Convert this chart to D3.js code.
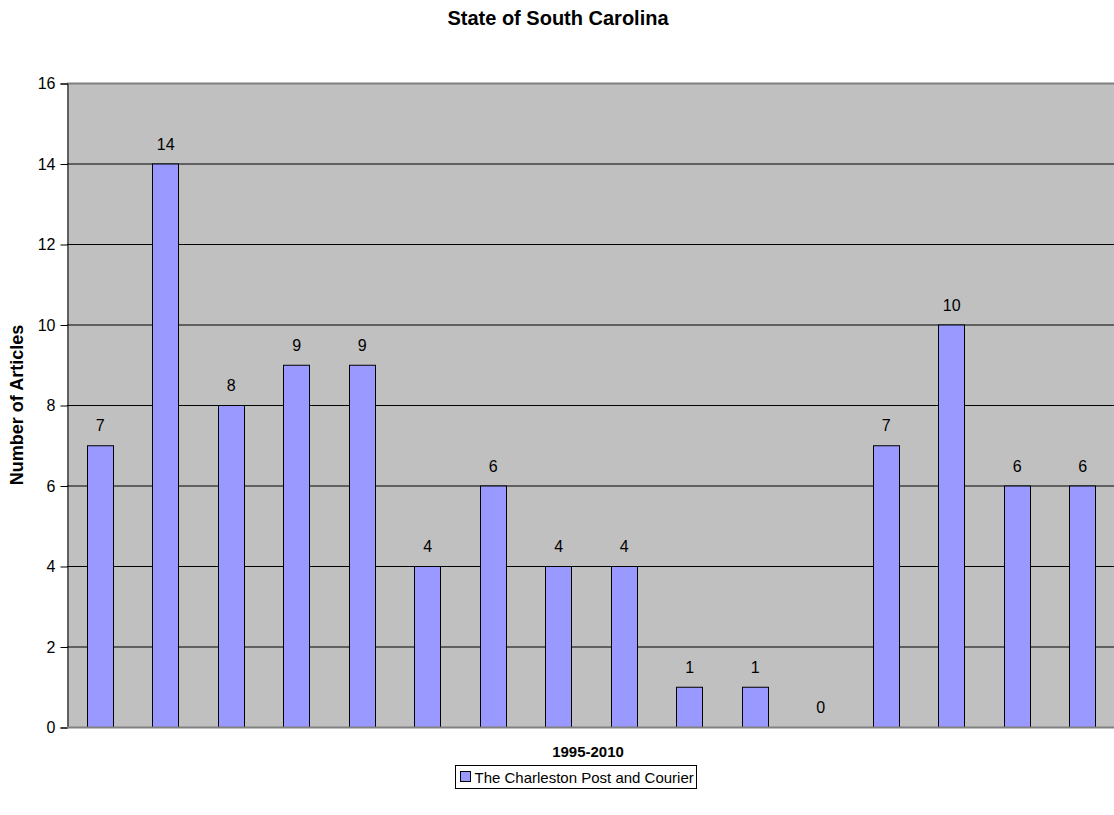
<!DOCTYPE html>
<html>
<head>
<meta charset="utf-8">
<script src="https://cdn.jsdelivr.net/npm/d3@7"></script>
<style>
  html, body { margin: 0; padding: 0; background: #fff; }
  svg { display: block; font-family: Arial, "Liberation Sans", sans-serif; }
</style>
</head>
<body>
<svg id="chart" width="1114" height="815"></svg>
<script>
// Articles per year, 1995-2010
const years = ["1995","1996","1997","1998","1999","2000","2001","2002","2003","2004","2005","2006","2007","2008","2009","2010"];
const articles = [7, 14, 8, 9, 9, 4, 6, 4, 4, 1, 1, 0, 7, 10, 6, 6];
const yTicks = [0, 2, 4, 6, 8, 10, 12, 14, 16];
const seriesName = "The Charleston Post and Courier";

const svg = d3.select("#chart");
const plot = { left: 67, top: 83, right: 1115, bottom: 727 };

const x = d3.scaleBand()
  .domain(years)
  .range([plot.left, plot.right])
  .paddingInner(0.6)
  .paddingOuter(0.3);

const y = d3.scaleLinear()
  .domain([0, 16])
  .range([plot.bottom, plot.top]);

// Plot area background
svg.append("rect")
  .attr("x", plot.left).attr("y", plot.top)
  .attr("width", plot.right - plot.left).attr("height", plot.bottom - plot.top)
  .attr("fill", "#c0c0c0");

// Horizontal gridlines
svg.append("g")
  .selectAll("line")
  .data(yTicks.filter(d => d > 0 && d < 16))
  .join("line")
  .attr("x1", plot.left).attr("x2", plot.right)
  .attr("y1", d => y(d) + 0.5).attr("y2", d => y(d) + 0.5)
  .attr("stroke", "#000").attr("stroke-width", 1);

// Top border of plot area
svg.append("line")
  .attr("x1", plot.left).attr("x2", plot.right)
  .attr("y1", y(16) + 0.5).attr("y2", y(16) + 0.5)
  .attr("stroke", "#808080").attr("stroke-width", 2);

// Bars
svg.append("g")
  .selectAll("rect")
  .data(articles)
  .join("rect")
  .attr("x", (d, i) => Math.round(x(years[i])) + 0.5)
  .attr("y", d => y(d) + 0.5)
  .attr("width", Math.round(x.bandwidth()))
  .attr("height", d => y(0) - y(d))
  .attr("fill", "#9999ff")
  .attr("stroke", "#000")
  .attr("stroke-width", 1);

// Value labels
svg.append("g")
  .selectAll("text")
  .data(articles)
  .join("text")
  .attr("x", (d, i) => x(years[i]) + x.bandwidth() / 2 + 0.5)
  .attr("y", d => y(d) - 14)
  .attr("text-anchor", "middle")
  .attr("font-size", 16)
  .attr("fill", "#000")
  .text(d => d);

// Y axis
const yAxis = d3.axisLeft(y).tickValues(yTicks).tickSize(7).tickPadding(5).tickFormat(d3.format("d"));
const yg = svg.append("g")
  .attr("transform", `translate(${plot.left + 0.5},0.5)`)
  .call(yAxis);
yg.select(".domain").attr("stroke", "#000");
yg.selectAll(".tick line").attr("stroke", "#000");
yg.selectAll(".tick text").attr("font-size", 16).attr("font-family", "Arial, 'Liberation Sans', sans-serif").attr("fill", "#000");

// X axis baseline
svg.append("line")
  .attr("x1", plot.left).attr("x2", plot.right)
  .attr("y1", y(0) + 0.5).attr("y2", y(0) + 0.5)
  .attr("stroke", "#808080").attr("stroke-width", 2);

// Title
svg.append("text")
  .attr("x", 558).attr("y", 25)
  .attr("text-anchor", "middle")
  .attr("font-size", 20).attr("font-weight", "bold")
  .text("State of South Carolina");

// Axis titles
svg.append("text")
  .attr("x", 588).attr("y", 757)
  .attr("text-anchor", "middle")
  .attr("font-size", 15).attr("font-weight", "bold")
  .text("1995-2010");

svg.append("text")
  .attr("transform", `translate(23,${(plot.top + plot.bottom) / 2}) rotate(-90)`)
  .attr("text-anchor", "middle")
  .attr("font-size", 18).attr("font-weight", "bold")
  .text("Number of Articles");

// Legend
const legend = svg.append("g").attr("transform", "translate(455.5,765.5)");
legend.append("rect")
  .attr("width", 241).attr("height", 23)
  .attr("fill", "#fff").attr("stroke", "#000");
legend.append("rect")
  .attr("x", 5).attr("y", 6).attr("width", 10).attr("height", 10)
  .attr("fill", "#9999ff").attr("stroke", "#000");
legend.append("text")
  .attr("x", 19).attr("y", 17)
  .attr("font-size", 15)
  .text(seriesName);
</script>
</body>
</html>
